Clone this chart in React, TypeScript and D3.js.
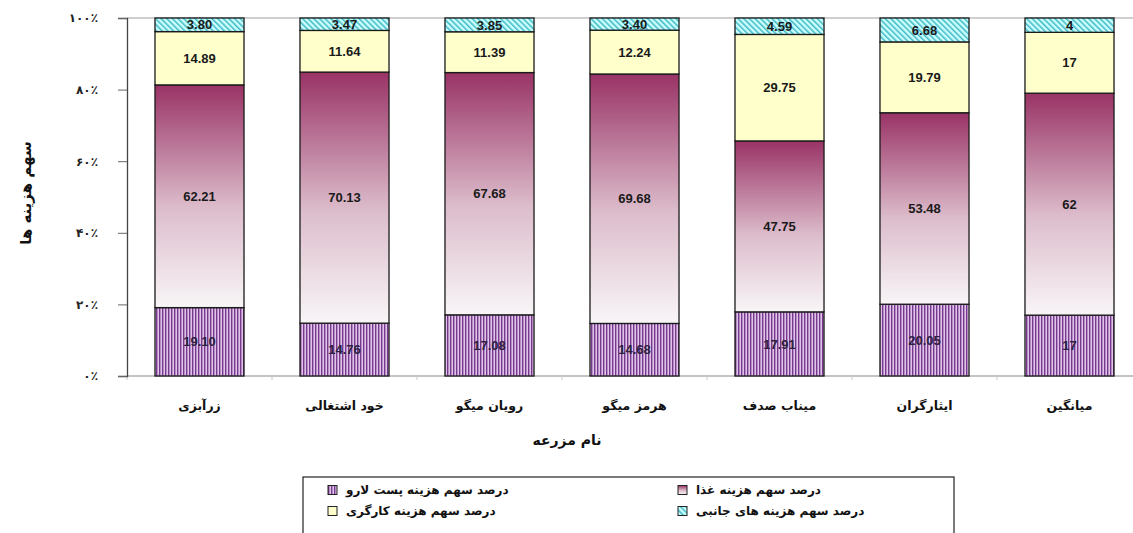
import React, { useEffect, useRef } from "react";
import * as d3 from "d3";

// farms, bottom-to-top cost shares (percent)
const farms = ["زرآبزی", "خود اشتغالی", "رویان میگو", "هرمز میگو", "میناب صدف", "ایثارگران", "میانگین"];
const larvae = [19.1, 14.76, 17.08, 14.68, 17.91, 20.05, 17];
const food = [62.21, 70.13, 67.68, 69.68, 47.75, 53.48, 62];
const labor = [14.89, 11.64, 11.39, 12.24, 29.75, 19.79, 17];
const side = [3.8, 3.47, 3.85, 3.4, 4.59, 6.68, 4];

const seriesKeys = ["larvae", "food", "labor", "side"];
const legendNames = [
  "درصد سهم  هزینه پست لارو",
  "درصد سهم هزینه غذا",
  "درصد  سهم هزینه کارگری",
  "درصد  سهم هزینه  های جانبی",
];
const yTicks = [0, 20, 40, 60, 80, 100];

const persianDigits = (n: number) =>
  String(n).replace(/\d/g, (c) => "۰۱۲۳۴۵۶۷۸۹"[+c]);

const fmt = (v: number) => (Number.isInteger(v) ? String(v) : v.toFixed(2));

const faFont = "'DejaVu Sans', sans-serif";
const numFont = "'Liberation Sans', Arial, sans-serif";

const Chart = () => {
  const ref = useRef<SVGSVGElement>(null);

  useEffect(() => {
    const svg = d3.select(ref.current);
    svg.selectAll("*").remove();

    const margin = { top: 18, left: 127 };
    const plotBottom = 376;
    const plotRight = 1142;

    const rows = farms.map((f, i) => ({
      farm: f,
      larvae: larvae[i],
      food: food[i],
      labor: labor[i],
      side: side[i],
    }));
    const stacked = d3.stack<any>().keys(seriesKeys)(rows);

    const x = d3
      .scaleBand()
      .domain(farms)
      .range([margin.left, plotRight])
      .paddingInner(0.386)
      .paddingOuter(0.193);

    const y = d3.scaleLinear().domain([0, 100]).range([plotBottom, margin.top]);

    // patterns / gradient
    const defs = svg.append("defs");
    const pv = defs
      .append("pattern")
      .attr("id", "pLarvae")
      .attr("patternUnits", "userSpaceOnUse")
      .attr("width", 3)
      .attr("height", 3);
    pv.append("rect").attr("width", 3).attr("height", 3).attr("fill", "#e0c2ea");
    pv.append("rect").attr("width", 1.4).attr("height", 3).attr("fill", "#763a8c");

    const ps = defs
      .append("pattern")
      .attr("id", "pSide")
      .attr("patternUnits", "userSpaceOnUse")
      .attr("width", 4)
      .attr("height", 4)
      .attr("patternTransform", "rotate(-45)");
    ps.append("rect").attr("width", 4).attr("height", 4).attr("fill", "#ccffff");
    ps.append("rect").attr("width", 1.5).attr("height", 4).attr("fill", "#3fb8c4");

    const g = defs
      .append("linearGradient")
      .attr("id", "gFood")
      .attr("x1", 0)
      .attr("y1", 0)
      .attr("x2", 0)
      .attr("y2", 1);
    g.append("stop").attr("offset", 0).attr("stop-color", "#993366");
    g.append("stop").attr("offset", 0.55).attr("stop-color", "#dcbccb");
    g.append("stop").attr("offset", 1).attr("stop-color", "#f8f5f7");

    const fills: Record<string, string> = {
      larvae: "url(#pLarvae)",
      food: "url(#gFood)",
      labor: "#ffffcc",
      side: "url(#pSide)",
    };

    // frame lines
    svg
      .append("line")
      .attr("x1", margin.left)
      .attr("x2", plotRight)
      .attr("y1", margin.top)
      .attr("y2", margin.top)
      .attr("stroke", "#a0a0a0")
      .attr("stroke-width", 1.2);

    svg
      .append("line")
      .attr("x1", margin.left)
      .attr("x2", plotRight)
      .attr("y1", plotBottom)
      .attr("y2", plotBottom)
      .attr("stroke", "#8a8a8a")
      .attr("stroke-width", 1.2);

    // x ticks at band boundaries
    svg
      .append("g")
      .selectAll("line")
      .data(d3.range(farms.length + 1))
      .join("line")
      .attr("x1", (i) => margin.left + i * x.step())
      .attr("x2", (i) => margin.left + i * x.step())
      .attr("y1", plotBottom)
      .attr("y2", plotBottom + 4)
      .attr("stroke", "#c8c8c8");

    // y axis
    const yAxis = svg
      .append("g")
      .attr("transform", `translate(${margin.left},0)`)
      .call(d3.axisLeft(y).tickValues(yTicks).tickSize(9).tickPadding(20).tickFormat((d) => persianDigits(+d) + "٪"));
    yAxis.select(".domain").attr("stroke", "#444").attr("stroke-width", 1.3);
    yAxis.selectAll(".tick line").attr("stroke", "#666");
    yAxis
      .selectAll(".tick text")
      .attr("font-family", faFont)
      .attr("font-size", 12)
      .attr("letter-spacing", 2)
      .attr("font-weight", "bold")
      .attr("fill", "#222");

    // bars
    const layers = svg
      .append("g")
      .selectAll("g")
      .data(stacked)
      .join("g")
      .attr("fill", (d) => fills[d.key]);

    layers
      .selectAll("rect")
      .data((d) => d)
      .join("rect")
      .attr("x", (d: any) => x(d.data.farm)!)
      .attr("y", (d) => y(d[1]))
      .attr("width", x.bandwidth())
      .attr("height", (d) => y(d[0]) - y(d[1]))
      .attr("stroke", "#1a1a1a")
      .attr("stroke-width", 1.3);

    // value labels
    svg
      .append("g")
      .selectAll("g")
      .data(stacked)
      .join("g")
      .selectAll("text")
      .data((s) => s.map((d: any) => ({ d, key: s.key })))
      .join("text")
      .attr("x", (o: any) => x(o.d.data.farm)! + x.bandwidth() / 2)
      .attr("y", (o: any) => (y(o.d[0]) + y(o.d[1])) / 2)
      .attr("dy", "0.36em")
      .attr("text-anchor", "middle")
      .attr("font-family", numFont)
      .attr("font-weight", "bold")
      .attr("font-size", 13)
      .attr("fill", (o: any) => (o.key === "larvae" ? "#2c2240" : "#1a1a1a"))
      .text((o: any) => fmt(o.d.data[o.key]));

    // x labels
    svg
      .append("g")
      .selectAll("text")
      .data(farms)
      .join("text")
      .attr("x", (f) => x(f)! + x.bandwidth() / 2)
      .attr("y", 410)
      .attr("text-anchor", "middle")
      .attr("font-family", faFont)
      .attr("font-size", 12.5)
      .attr("font-weight", "bold")
      .attr("fill", "#111")
      .text((f) => f);

    // axis titles
    svg
      .append("text")
      .attr("x", 567)
      .attr("y", 445)
      .attr("text-anchor", "middle")
      .attr("font-family", faFont)
      .attr("font-size", 14)
      .attr("font-weight", "bold")
      .attr("fill", "#111")
      .text("نام مزرعه");

    svg
      .append("text")
      .attr("transform", "translate(26,193) rotate(-90)")
      .attr("text-anchor", "middle")
      .attr("dy", "0.35em")
      .attr("font-family", faFont)
      .attr("font-size", 15)
      .attr("font-weight", "bold")
      .attr("fill", "#111")
      .text("سهم هزینه ها");

    // legend
    const lg = svg.append("g");
    lg.append("rect")
      .attr("x", 303)
      .attr("y", 477)
      .attr("width", 651)
      .attr("height", 70)
      .attr("fill", "#fff")
      .attr("stroke", "#222")
      .attr("stroke-width", 1.2);

    const legendPos = [
      { x: 328, y: 490 },
      { x: 678, y: 490 },
      { x: 328, y: 511 },
      { x: 678, y: 511 },
    ];
    const items = lg
      .selectAll("g.item")
      .data(seriesKeys)
      .join("g")
      .attr("class", "item")
      .attr("transform", (_, i) => `translate(${legendPos[i].x},${legendPos[i].y})`);
    items
      .append("rect")
      .attr("x", 0)
      .attr("y", -4.5)
      .attr("width", 9)
      .attr("height", 9)
      .attr("fill", (k) => fills[k])
      .attr("stroke", "#222");
    items
      .append("text")
      .attr("x", 18)
      .attr("dy", "0.35em")
      .attr("font-family", faFont)
      .attr("font-size", 12)
      .attr("font-weight", "bold")
      .attr("fill", "#111")
      .text((_, i) => legendNames[i]);
  }, []);

  return (
    <svg
      ref={ref}
      width={1133}
      height={533}
      style={{ position: "absolute", left: 0, top: 0, background: "#fff" }}
    />
  );
};

export default function App() {
  return <Chart />;
}
